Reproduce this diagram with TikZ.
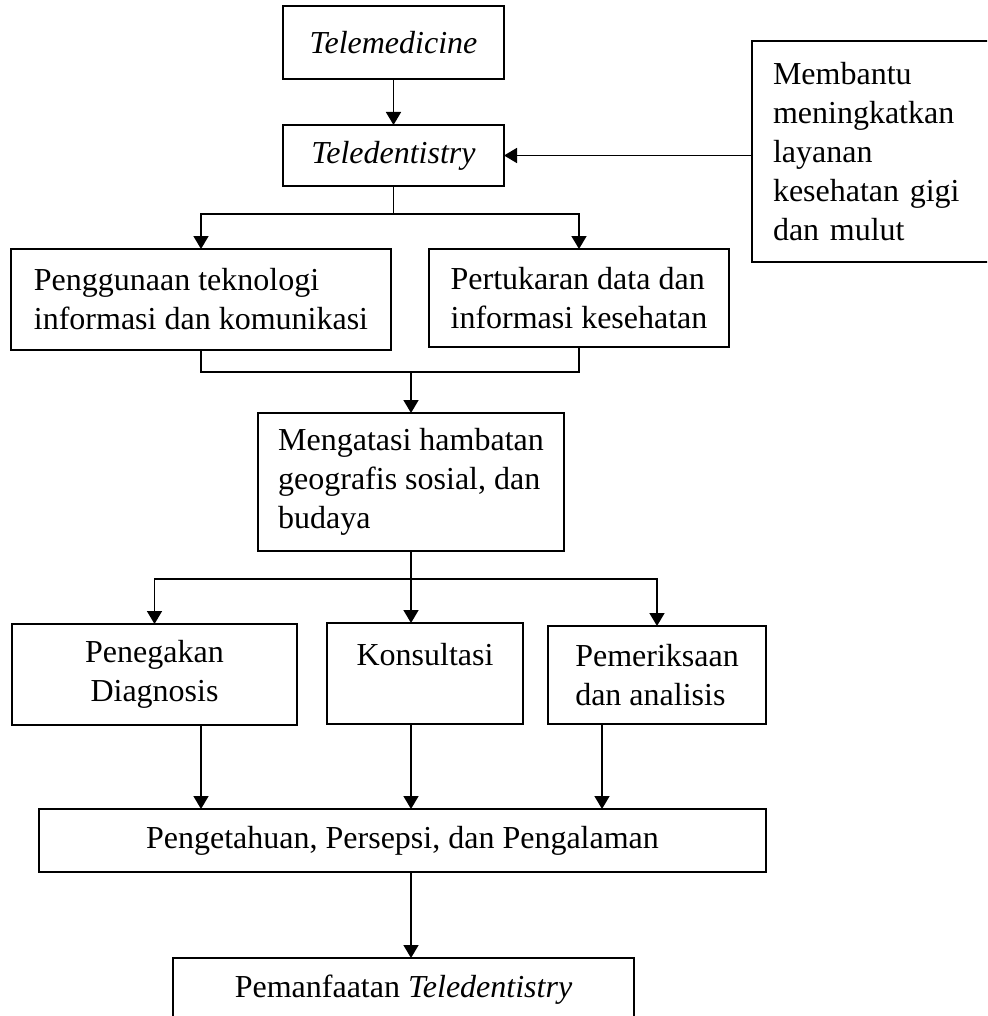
\documentclass[tikz,border=0pt]{standalone}
\usepackage{fontspec}
\setmainfont{Liberation Serif}
\usetikzlibrary{arrows.meta,positioning}

\begin{document}
\begin{tikzpicture}[>={Triangle[length=6.5pt,width=7.5pt]},line width=0.8pt]

      \tikzstyle{flowbox}=[rectangle,draw,inner sep=0pt,outer sep=0pt,
        font=\fontsize{16pt}{19.5pt}\selectfont]

      \clip (0,0) rectangle (493.5pt,-508pt);

      \node(Telemedicine)[flowbox,minimum width=110.5pt,
        minimum height=36.5pt] at (196.75pt,-21.25pt){\textit{Telemedicine}};
      \node(Teledentistry)[flowbox,below =23pt of Telemedicine,
        minimum width=110.5pt,minimum height=30.5pt]{\textit{Teledentistry}};
      \node(Membantu)[flowbox,right =124pt of Teledentistry,yshift=2pt,
        text width=140pt,inner xsep=10.5pt,align=left,
        minimum height=110.5pt]{Membantu\\meningkatkan\\layanan\\kesehatan gigi\\dan mulut};

      \draw [->] (Telemedicine)--(Teledentistry);
      \draw [->] (Membantu.west |- Teledentistry)--(Teledentistry);

      \node(Penggunaan)[flowbox,below =31.5pt of Teledentistry,
        xshift=-96.25pt,minimum width=190pt,minimum height=50.5pt,
        align=left]{Penggunaan teknologi\\informasi dan komunikasi};
      \node(Pertukaran)[flowbox,right =19pt of Penggunaan,yshift=0.75pt,
        minimum width=150pt,minimum height=49pt,
        align=left]{Pertukaran data dan\\informasi kesehatan};

      \draw [->] (Teledentistry.south)--++(0,-14pt)-|(Penggunaan.north);
      \draw [->] (Teledentistry.south)--++(0,-14pt)-|(Pertukaran.north);

      \node(Mengatasi)[flowbox,below =31.5pt of Penggunaan,
        xshift=105pt,minimum width=153pt,minimum height=69pt,
        align=left]{Mengatasi hambatan\\geografis sosial, dan\\budaya};

      \draw (Penggunaan.south)--++(0,-11pt) coordinate(JoinDE)
        -|(Pertukaran.south);
      \draw [->] (JoinDE -| Mengatasi.north)--(Mengatasi.north);

      \node(Penegakan)[flowbox,below =36.5pt of Mengatasi,
        xshift=-128.25pt,minimum width=142.5pt,minimum height=50.5pt,
        align=center]{Penegakan\\Diagnosis};
      \node(Konsultasi)[flowbox,right =15pt of Penegakan,yshift=0.5pt,
        minimum width=98pt,minimum height=50.5pt,
        align=center]{Konsultasi\\\mbox{}};
      \node(Pemeriksaan)[flowbox,right =12.5pt of Konsultasi,yshift=-0.75pt,
        minimum width=109pt,minimum height=49pt,
        align=left]{Pemeriksaan\\dan analisis};

      \draw (Mengatasi.south)--++(0,-14pt) coordinate(ForkF);
      \draw [->] (ForkF)-|(Penegakan.north);
      \draw [->] (ForkF)--(ForkF |- Konsultasi.north);
      \draw [->] (ForkF)-|(Pemeriksaan.north);

      \node(Pengetahuan)[flowbox,below =42pt of Penegakan,
        xshift=124pt,minimum width=363.5pt,
        minimum height=31.5pt]{Pengetahuan, Persepsi, dan Pengalaman};
      \node(Pemanfaatan)[flowbox,below =43pt of Pengetahuan,
        xshift=0.5pt,minimum width=230.5pt,
        minimum height=31.5pt]{Pemanfaatan \textit{Teledentistry}};

      \coordinate(DiagOut) at ([xshift=23.25pt]Penegakan.south);
      \coordinate(PemOut) at ([xshift=-27.5pt]Pemeriksaan.south);

      \draw [->] (DiagOut)--(DiagOut |- Pengetahuan.north);
      \draw [->] (ForkF |- Konsultasi.south)--(ForkF |- Pengetahuan.north);
      \draw [->] (PemOut)--(PemOut |- Pengetahuan.north);
      \draw [->] (ForkF |- Pengetahuan.south)--(ForkF |- Pemanfaatan.north);

    \end{tikzpicture}
\end{document}
